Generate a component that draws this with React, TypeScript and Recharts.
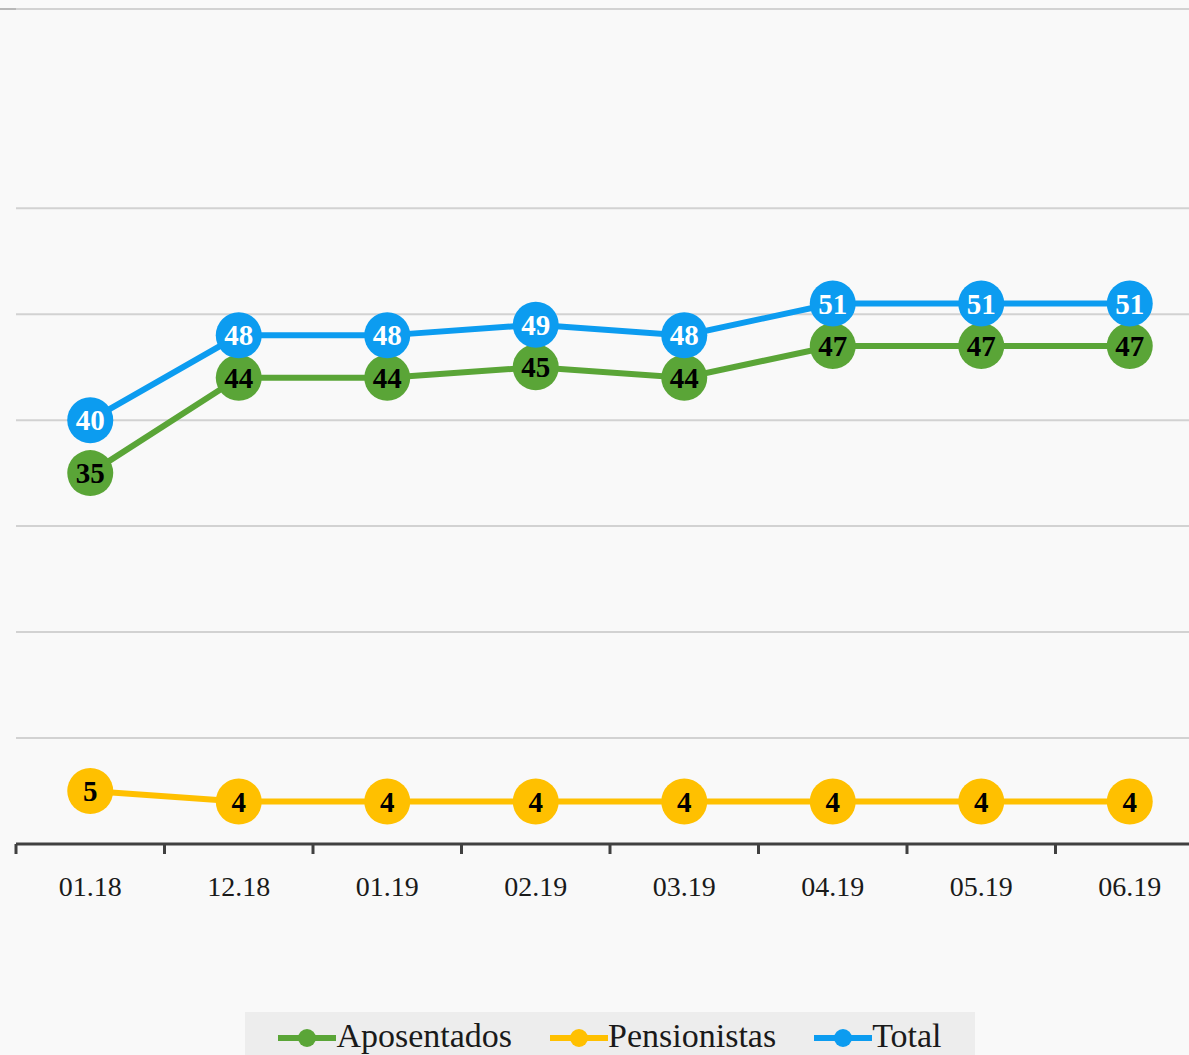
import { CartesianGrid, LabelList, Legend, Line, LineChart, XAxis, YAxis } from "recharts";

const periods = ["01.18", "12.18", "01.19", "02.19", "03.19", "04.19", "05.19", "06.19"];
const aposentados = [35, 44, 44, 45, 44, 47, 47, 47];
const pensionistas = [5, 4, 4, 4, 4, 4, 4, 4];
const total = [40, 48, 48, 49, 48, 51, 51, 51];
const yTicks = [0, 10, 20, 30, 40, 50, 60];

const SERIES = [
  { key: "aposentados", name: "Aposentados", color: "#5aa537", text: "#000" },
  { key: "pensionistas", name: "Pensionistas", color: "#ffc000", text: "#000" },
  { key: "total", name: "Total", color: "#0c9cf0", text: "#fff" },
];

const CHART_W = 1220;
const CHART_H = 1070;
const MARGIN = { top: 9, right: 16, bottom: 0, left: 16 };
const HALF_BAND = (CHART_W - MARGIN.left - MARGIN.right) / periods.length / 2;
const FONT = "'Liberation Serif', 'DejaVu Serif', serif";

const data = periods.map((p, i) => ({
  x: i + 0.5,
  period: p,
  aposentados: aposentados[i],
  pensionistas: pensionistas[i],
  total: total[i],
}));

function PeriodTick(props: any) {
  const { x, payload } = props;
  const label = periods[payload.value];
  if (label === undefined) return null;
  return (
    <text x={x + HALF_BAND} y={896} textAnchor="middle" fontSize={28} fill="#1a1a1a" fontFamily={FONT}>
      {label}
    </text>
  );
}

function dotLabel(color: string) {
  return (props: any) => {
    const { x, y, value } = props;
    return (
      <text
        x={x}
        y={y + 10}
        textAnchor="middle"
        fontSize={29}
        fontWeight="bold"
        fill={color}
        fontFamily={FONT}
      >
        {value}
      </text>
    );
  };
}

function LegendBox() {
  return (
    <div
      style={{
        width: 730,
        height: 58,
        margin: "0 auto",
        background: "#ededed",
        display: "flex",
        justifyContent: "center",
        alignItems: "flex-start",
        gap: 38,
        paddingTop: 4,
        boxSizing: "border-box",
      }}
    >
      {SERIES.map((s) => (
        <div key={s.key} style={{ display: "flex", alignItems: "center" }}>
          <svg width={58} height={40}>
            <line x1={0} y1={22} x2={58} y2={22} stroke={s.color} strokeWidth={6} />
            <circle cx={29} cy={22} r={9} fill={s.color} />
          </svg>
          <span style={{ fontFamily: FONT, fontSize: 34, color: "#1a1a1a", lineHeight: "40px" }}>
            {s.name}
          </span>
        </div>
      ))}
    </div>
  );
}

export default function App() {
  return (
    <div
      style={{
        position: "absolute",
        left: 0,
        top: 0,
        width: 1189,
        height: 1055,
        overflow: "hidden",
        background: "#f9f9f9",
      }}
    >
      <div style={{ position: "absolute", left: 0, top: 8, width: 1189, height: 2, background: "#b8b8b8" }} />
      <LineChart width={CHART_W} height={CHART_H} data={data} margin={MARGIN}>
        <CartesianGrid vertical={false} stroke="#d2d2d2" strokeWidth={2} />
        <XAxis
          dataKey="x"
          type="number"
          domain={[0, periods.length]}
          ticks={periods.map((_, i) => i).concat(periods.length)}
          interval={0}
          height={168}
          axisLine={{ stroke: "#404040", strokeWidth: 3 }}
          tickLine={{ stroke: "#404040", strokeWidth: 3 }}
          tickSize={10}
          tick={<PeriodTick />}
        />
        <YAxis hide domain={[0, 78.8]} ticks={yTicks} />
        <Legend verticalAlign="bottom" height={58} content={() => <LegendBox />} />
        {SERIES.map((s) => (
          <Line
            key={s.key}
            dataKey={s.key}
            name={s.name}
            stroke={s.color}
            strokeWidth={6}
            dot={{ r: 23, fill: s.color, stroke: s.color, strokeWidth: 0 }}
            activeDot={false}
            isAnimationActive={false}
          >
            <LabelList dataKey={s.key} content={dotLabel(s.text)} />
          </Line>
        ))}
      </LineChart>
    </div>
  );
}
